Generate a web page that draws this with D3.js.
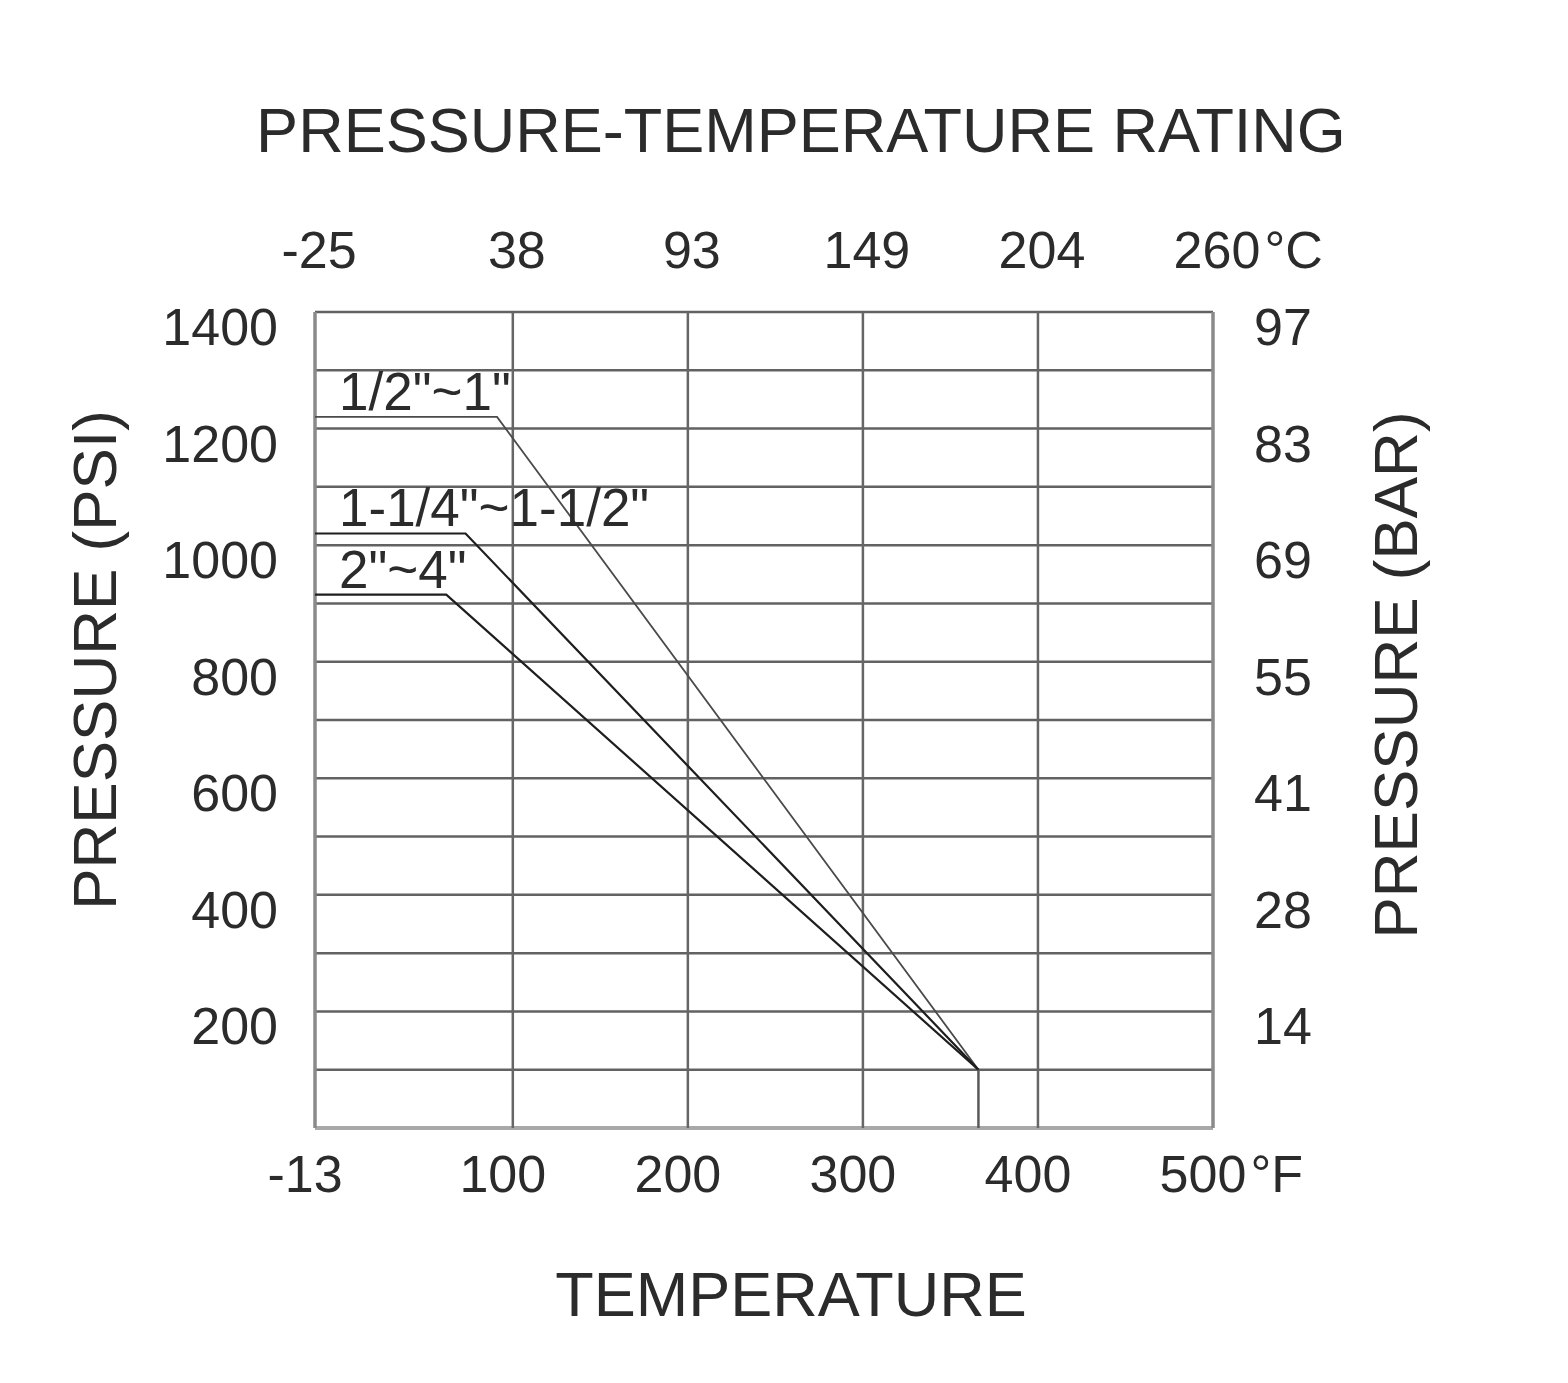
<!DOCTYPE html>
<html>
<head>
<meta charset="utf-8">
<script src="https://cdn.jsdelivr.net/npm/d3@7"></script>
<style>
  body { margin: 0; background: #fff; }
  svg text { font-family: "Liberation Sans", Arial, sans-serif; fill: #2b2b2b; }
</style>
</head>
<body>
<svg id="chart" width="1568" height="1383"></svg>
<script>
// values
var sizeLabels = ['1/2"~1"', '1-1/4"~1-1/2"', '2"~4"'];
var sizeTemps = [[-13, 91, 366], [-13, 73, 366], [-13, 62, 366]];
var sizePsi = [[1220, 1220, 100], [1020, 1020, 100], [915, 915, 100]];
var cutoffTemp = [366, 366];
var cutoffPsi = [100, 0];

var fTicks = [-13, 100, 200, 300, 400, 500];
var fLabels = ["-13", "100", "200", "300", "400", "500"];
var cLabels = ["-25", "38", "93", "149", "204", "260"];
var psiTicks = [1400, 1200, 1000, 800, 600, 400, 200];
var barLabels = ["97", "83", "69", "55", "41", "28", "14"];
var gridPsi = d3.range(0, 1401, 100);

var svg = d3.select("#chart");
svg.append("rect").attr("width", 1568).attr("height", 1383).attr("fill", "#fff");

var x = d3.scaleLinear().domain([-13, 500]).range([315, 1213]);
var y = d3.scaleLinear().domain([0, 1400]).range([1128, 312]);

var g = svg.append("g");

// grid
g.selectAll("line.h").data(gridPsi).enter()
  .append("line")
  .attr("class", "h")
  .attr("x1", x(-13)).attr("x2", x(500))
  .attr("y1", function(d) { return y(d); })
  .attr("y2", function(d) { return y(d); })
  .attr("stroke", function(d) { return d == 0 ? "#a8a8a8" : "#626262"; })
  .attr("stroke-width", function(d) { return d == 0 ? 4 : 2.5; });

g.selectAll("line.v").data(fTicks).enter()
  .append("line")
  .attr("class", "v")
  .attr("y1", y(0)).attr("y2", y(1400))
  .attr("x1", function(d) { return x(d); })
  .attr("x2", function(d) { return x(d); })
  .attr("stroke", function(d, i) { return (i == 0 || i == fTicks.length - 1) ? "#8a8a8a" : "#666"; })
  .attr("stroke-width", function(d, i) { return (i == 0 || i == fTicks.length - 1) ? 3.5 : 2.5; });

// rating lines
var lineFunction = d3.line()
  .x(function(d) { return x(d[0]); })
  .y(function(d) { return y(d[1]); });

var series = sizeTemps.map(function(t, i) {
  return t.map(function(v, j) { return [v, sizePsi[i][j]]; });
});

g.selectAll("path.rating").data(series).enter()
  .append("path")
  .attr("class", "rating")
  .attr("d", function(d) { return lineFunction(d); })
  .attr("fill", "none")
  .attr("stroke", function(d, i) { return i == 0 ? "#4a4a4a" : "#1e1e1e"; })
  .attr("stroke-width", function(d, i) { return i == 0 ? 1.8 : 2.2; });

g.append("path")
  .attr("d", lineFunction(cutoffTemp.map(function(v, j) { return [v, cutoffPsi[j]]; })))
  .attr("fill", "none")
  .attr("stroke", "#5a5a5a")
  .attr("stroke-width", 2.5);

g.selectAll("text.size").data(sizeLabels).enter()
  .append("text")
  .attr("class", "size")
  .attr("x", x(-13) + 24)
  .attr("y", function(d, i) { return y(sizePsi[i][0]) - 7; })
  .attr("font-size", 53)
  .text(function(d) { return d; });

// axis labels
var tickFont = 52;

g.selectAll("text.left").data(psiTicks).enter()
  .append("text")
  .attr("class", "left")
  .attr("x", 278)
  .attr("y", function(d) { return y(d) + 33; })
  .attr("text-anchor", "end")
  .attr("font-size", tickFont)
  .text(function(d) { return d; });

g.selectAll("text.right").data(psiTicks).enter()
  .append("text")
  .attr("class", "right")
  .attr("x", 1254)
  .attr("y", function(d) { return y(d) + 33; })
  .attr("font-size", tickFont)
  .text(function(d, i) { return barLabels[i]; });

function unitLabels(cls, labels, yPos, shift, unit) {
  var sel = g.selectAll("text." + cls).data(fTicks).enter()
    .append("text")
    .attr("class", cls)
    .attr("x", function(d) { return x(d) + shift; })
    .attr("y", yPos)
    .attr("text-anchor", "middle")
    .attr("font-size", tickFont)
    .text(function(d, i) { return labels[i]; });
  var last = sel.filter(function(d, i) { return i == fTicks.length - 1; }).node();
  var bb = last.getBBox();
  g.append("text")
    .attr("x", bb.x + bb.width + 4)
    .attr("y", yPos)
    .attr("font-size", tickFont)
    .text(unit);
}
unitLabels("cel", cLabels, 268, 4, "\u00b0C");
unitLabels("fah", fLabels, 1192, -10, "\u00b0F");

// titles
svg.append("text")
  .attr("x", 801).attr("y", 152)
  .attr("text-anchor", "middle")
  .attr("font-size", 63)
  .text("PRESSURE-TEMPERATURE RATING");

svg.append("text")
  .attr("x", 791).attr("y", 1316)
  .attr("text-anchor", "middle")
  .attr("font-size", 63)
  .text("TEMPERATURE");

svg.append("text")
  .attr("transform", "translate(116,660) rotate(-90)")
  .attr("text-anchor", "middle")
  .attr("font-size", 62)
  .text("PRESSURE (PSI)");

svg.append("text")
  .attr("transform", "translate(1417,675) rotate(-90)")
  .attr("text-anchor", "middle")
  .attr("font-size", 62)
  .text("PRESSURE (BAR)");
</script>
</body>
</html>
